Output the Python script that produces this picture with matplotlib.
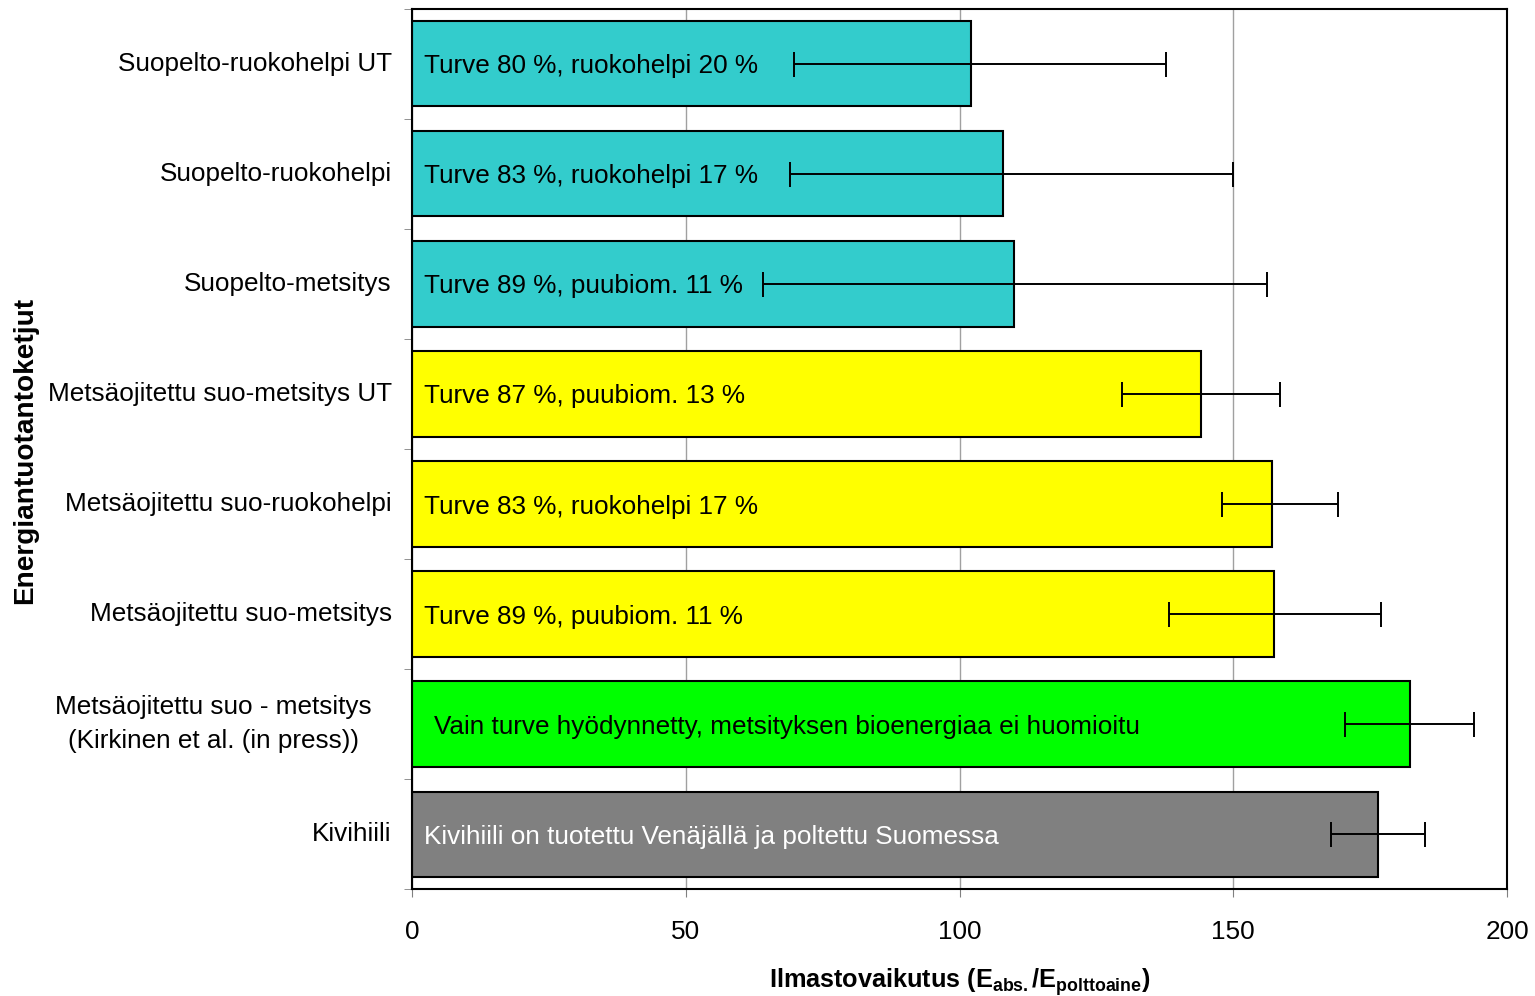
import matplotlib
matplotlib.use("Agg")
import matplotlib.pyplot as plt
import numpy as np

plt.rcParams['font.family'] = ['Liberation Sans', 'DejaVu Sans']
plt.rcParams['mathtext.fontset'] = 'custom'
plt.rcParams['mathtext.rm'] = 'Liberation Sans'
plt.rcParams['mathtext.bf'] = 'Liberation Sans:bold'

# energiantuotantoketjut, ylhäältä alas
chains = [
    "Suopelto-ruokohelpi UT",
    "Suopelto-ruokohelpi",
    "Suopelto-metsitys",
    "Metsäojitettu suo-metsitys UT",
    "Metsäojitettu suo-ruokohelpi",
    "Metsäojitettu suo-metsitys",
    "Metsäojitettu suo - metsitys\n(Kirkinen et al. (in press))",
    "Kivihiili",
]
impact = [102.1, 107.9, 110.0, 144.1, 157.1, 157.4, 182.3, 176.4]
err_low = [69.8, 69.0, 64.1, 129.7, 147.9, 138.3, 170.4, 167.9]
err_high = [137.7, 150.0, 156.2, 158.5, 169.1, 177.0, 194.0, 185.0]
bar_text = [
    "Turve 80 %, ruokohelpi 20 %",
    "Turve 83 %, ruokohelpi 17 %",
    "Turve 89 %, puubiom. 11 %",
    "Turve 87 %, puubiom. 13 %",
    "Turve 83 %, ruokohelpi 17 %",
    "Turve 89 %, puubiom. 11 %",
    "Vain turve hyödynnetty, metsityksen bioenergiaa ei huomioitu",
    "Kivihiili on tuotettu Venäjällä ja poltettu Suomessa",
]
colors = ["#33CCCC"] * 3 + ["#FFFF00"] * 3 + ["#00FF00", "#808080"]
text_colors = ["black"] * 7 + ["white"]

FS = 18.8

fig = plt.figure(figsize=(15.35, 9.96), dpi=100)
ax = fig.add_axes([0.2684, 0.1074, 0.7134, 0.8836])

y = np.arange(len(chains))
ax.barh(y, impact, height=0.773, color=colors, edgecolor="black",
        linewidth=1.5, zorder=2)

vals = np.array(impact)
xerr = [vals - np.array(err_low), np.array(err_high) - vals]
ax.errorbar(vals, y, xerr=xerr, fmt="none", ecolor="black", elinewidth=1.4,
            capsize=9, capthick=1.4, zorder=3)

for i, (t, c) in enumerate(zip(bar_text, text_colors)):
    dx = 15.5 if i == 6 else 8.6
    ax.annotate(t, xy=(0, i), xytext=(dx, -1.8), textcoords="offset points",
                ha="left", va="center", fontsize=FS, color=c, zorder=4)

# kategorianimet akselin vasemmalle puolelle
for i, name in enumerate(chains):
    dx = -29 if "\n" in name else -14.5
    ax.annotate(name, xy=(0, i), xycoords=("axes fraction", "data"),
                xytext=(dx, 0), textcoords="offset points", ha="right",
                va="center", multialignment="center", fontsize=FS,
                linespacing=1.5)

ax.set_xlim(0, 200)
ax.set_ylim(len(chains) - 0.5, -0.5)
ax.set_xticks([0, 50, 100, 150, 200])
ax.tick_params(axis="x", labelsize=FS, length=6, color="#808080", pad=16)
ax.set_yticks([])
ax.set_yticks(np.arange(-0.5, len(chains)), minor=True)
ax.tick_params(axis="y", which="minor", length=6, color="#808080")
ax.grid(axis="x", color="#A0A0A0", linewidth=1.0, zorder=0)
ax.set_axisbelow(True)
for s in ax.spines.values():
    s.set_linewidth(1.5)

ax.set_xlabel(r"Ilmastovaikutus ($\mathbf{E_{abs.}/E_{polttoaine}}$)",
              fontsize=18.2, fontweight="bold", labelpad=16)
fig.text(25 / 1535, 1 - 450 / 996, "Energiantuotantoketjut", rotation=90,
         ha="center", va="center", fontsize=20.2, fontweight="bold")

fig.savefig("out.png", dpi=100)
